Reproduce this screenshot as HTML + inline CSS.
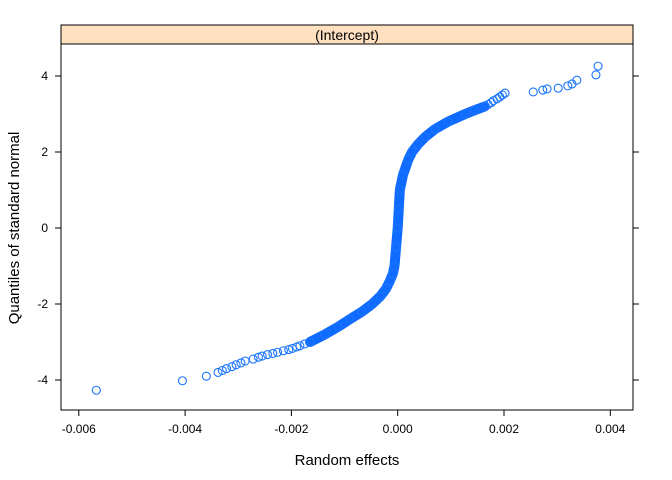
<!DOCTYPE html>
<html><head><meta charset="utf-8"><style>
body{margin:0;background:#fff;}
svg{display:block;font-family:"Liberation Sans",Arial,sans-serif;}
</style></head><body>
<svg id="chart" width="672" height="480" viewBox="0 0 672 480" xmlns="http://www.w3.org/2000/svg">
<rect x="61" y="25" width="572" height="19" fill="#ffe0c0" stroke="#000" stroke-width="1"/>
<text x="347" y="40" text-anchor="middle" font-size="14">(Intercept)</text>
<rect x="61" y="44" width="572" height="366" fill="none" stroke="#000" stroke-width="1"/>
<g id="axes"></g>
<g id="marks"></g>
<text x="347" y="465" text-anchor="middle" font-size="15">Random effects</text>
<text x="19" y="228" text-anchor="middle" font-size="15" transform="rotate(-90 19 228)">Quantiles of standard normal</text>
</svg>
<script>
const xTicks = [-0.006, -0.004, -0.002, 0, 0.002, 0.004];
const xTickLabels = ["-0.006", "-0.004", "-0.002", "0.000", "0.002", "0.004"];
const yTicks = [-4, -2, 0, 2, 4];
const yTickLabels = ["-4", "-2", "0", "2", "4"];
const quantiles = [-4.27,-4.02,-3.9,-3.8,-3.75,-3.7,-3.65,-3.6,-3.55,-3.5,-3.45,-3.4,-3.37,-3.33,-3.3,-3.27,-3.23,-3.2,-3.17,-3.13,-3.1,-3.05,-3.0,-2.8,-2.6,-2.4,-2.2,-2.0,-1.8,-1.6,-1.4,-1.2,-1.0,-0.5,0,0.5,1.0,1.4,1.8,2.0,2.2,2.4,2.6,2.8,3.0,3.1,3.2,3.25,3.3,3.35,3.4,3.45,3.5,3.55,3.58,3.63,3.66,3.68,3.74,3.79,3.89,4.03,4.26];
const effects = [-0.00567,-0.00405,-0.0036,-0.00338,-0.0033,-0.00322,-0.00312,-0.00304,-0.00295,-0.00287,-0.00272,-0.00262,-0.00255,-0.00245,-0.00235,-0.00226,-0.00215,-0.00205,-0.00198,-0.0019,-0.00184,-0.00175,-0.00165,-0.00137,-0.00112,-0.0009,-0.00067,-0.00048,-0.00033,-0.00022,-0.00015,-0.00009,-0.00006,-0.00003,0,0.00002,0.00004,0.0001,0.0002,0.00027,0.00038,0.00052,0.0007,0.00095,0.00127,0.00145,0.00164,0.0017,0.00176,0.0018,0.00187,0.00192,0.00197,0.00202,0.00255,0.00273,0.00281,0.00302,0.0032,0.00328,0.00337,0.00373,0.00377];
const NS="http://www.w3.org/2000/svg";
function xs(v){return 397.7 + v/0.002*106.3;}
function ys(q){return 228 - q*38;}
const axes=document.getElementById('axes');
const marks=document.getElementById('marks');
function mk(t,a,p){const e=document.createElementNS(NS,t);for(const k in a)e.setAttribute(k,a[k]);p.appendChild(e);return e;}
xTicks.forEach((v,i)=>{
  const x=xs(v);
  const t=mk('line',{x1:x,x2:x,y1:410,y2:416,stroke:'#000'},axes);
  
  
  const l=mk('text',{x:x,y:433,'text-anchor':'middle','font-size':12},axes);
  l.textContent=xTickLabels[i];
  
  
});
yTicks.forEach((v,i)=>{
  const y=ys(v);
  const t=mk('line',{x1:55,x2:61,y1:y,y2:y,stroke:'#000'},axes);
  
  
  const t2=mk('line',{x1:633,x2:639,y1:y,y2:y,stroke:'#000'},axes);
  
  
  const l=mk('text',{x:48,y:y+4,'text-anchor':'end','font-size':12},axes);
  l.textContent=yTickLabels[i];
  
  
});
let pts=[];
quantiles.forEach((q,i)=>{ if(q>=-3.0 && q<=3.2) pts.push(xs(effects[i])+','+ys(q)); });
const band=mk('polyline',{points:pts.join(' '),fill:'none',stroke:'#0f6bff','stroke-width':10,'stroke-linejoin':'round','stroke-linecap':'round'},marks);


quantiles.forEach((q,i)=>{
  const c=mk('circle',{cx:xs(effects[i]),cy:ys(q),r:4,fill:'none',stroke:'#1a75ff','stroke-width':1.1},marks);
  
  
});
</script>
</body></html>
